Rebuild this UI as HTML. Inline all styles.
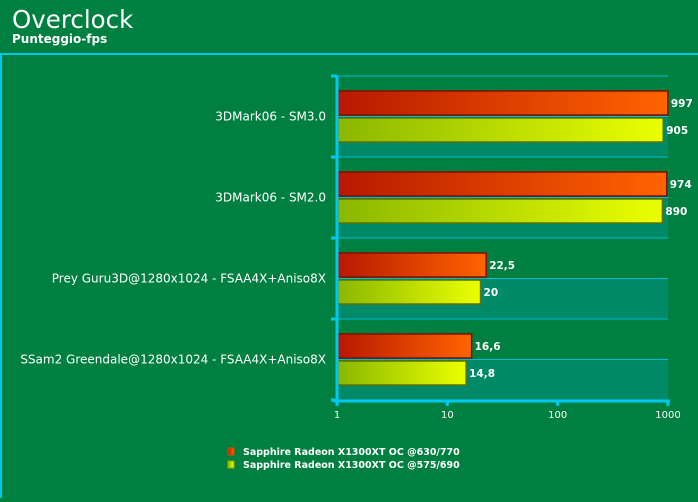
<!DOCTYPE html>
<html><head><meta charset="utf-8"><style>
body{margin:0;background:#008040;width:698px;height:498px;overflow:hidden;font-family:"DejaVu Sans","Liberation Sans",sans-serif}
</style></head><body>
<svg width="698" height="498" xmlns="http://www.w3.org/2000/svg" font-family="DejaVu Sans, Liberation Sans, sans-serif">
<defs>
<linearGradient id="gr" x1="0" x2="1"><stop offset="0" stop-color="#b81800"/><stop offset="1" stop-color="#ff6400"/></linearGradient>
<linearGradient id="gg" x1="0" x2="1"><stop offset="0" stop-color="#8ab800"/><stop offset="1" stop-color="#eaff00"/></linearGradient>
</defs>
<rect x="0" y="0" width="698" height="498" fill="#008040"/>
<text x="12" y="28" font-size="24.5" fill="#fff">Overclock</text>
<text x="12" y="43" font-size="12" font-weight="bold" fill="#fff">Punteggio-fps</text>
<path d="M1 498 V54 H698" stroke="#00c8e8" stroke-width="2" fill="none"/>
<g id="plot"></g>
<g>
<rect x="228" y="448" width="6" height="7" fill="url(#gr)" stroke="#d05000" stroke-width="1"/>
<text x="243" y="455" font-size="9.5" font-weight="bold" fill="#fff">Sapphire Radeon X1300XT OC @630/770</text>
<rect x="228" y="461" width="6" height="7" fill="url(#gg)" stroke="#90b000" stroke-width="1"/>
<text x="243" y="468" font-size="9.5" font-weight="bold" fill="#fff">Sapphire Radeon X1300XT OC @575/690</text>
</g>
</svg>
<script>
const categories=["3DMark06 - SM3.0","3DMark06 - SM2.0","Prey Guru3D@1280x1024 - FSAA4X+Aniso8X","SSam2 Greendale@1280x1024 - FSAA4X+Aniso8X"];
const seriesOC=[997,974,22.5,16.6];
const seriesStock=[905,890,20,14.8];
const labelsOC=["997","974","22,5","16,6"];
const labelsStock=["905","890","20","14,8"];
const ticks=[1,10,100,1000];
const NS="http://www.w3.org/2000/svg";
const g=document.getElementById('plot');
const X0=337,X1=668,Y0=76,Y1=400;
const band=(Y1-Y0)/categories.length;
function xs(v){return X0+Math.log10(v)/3*(X1-X0);}
function mk(t,a){const e=document.createElementNS(NS,t);for(const k in a)e.setAttribute(k,a[k]);g.appendChild(e);return e;}
categories.forEach((c,i)=>{
 const top=Y0+i*band;
 let e=mk('rect',{x:X0,y:top+band/2,width:X1-X0,height:band/2,fill:'#008a68'});
 
 
 mk('line',{x1:X0,x2:X1,y1:top,y2:top,stroke:'#00b8d8','stroke-width':1});
 mk('line',{x1:X0,x2:X1,y1:top+band/2,y2:top+band/2,stroke:'#00b8d8','stroke-width':1});
});
categories.forEach((c,i)=>{
 const top=Y0+i*band;
 let t=mk('text',{x:326,y:top+band/2+4,'font-size':12,fill:'#fff','text-anchor':'end'});
 t.textContent=c;
 
 
 let r=mk('rect',{x:X0+1,y:top+15,width:xs(seriesOC[i])-X0-1,height:24,fill:'url(#gr)',stroke:'#801000','stroke-width':1.5});
 
 
 let r2=mk('rect',{x:X0+1,y:top+42,width:xs(seriesStock[i])-X0-1,height:24,fill:'url(#gg)',stroke:'#607000','stroke-width':1.5});
 
 
 let l1=mk('text',{x:xs(seriesOC[i])+3,y:top+31,'font-size':10.5,'font-weight':'bold',fill:'#fff'});
 l1.textContent=labelsOC[i];
 
 
 let l2=mk('text',{x:xs(seriesStock[i])+3,y:top+58,'font-size':10.5,'font-weight':'bold',fill:'#fff'});
 l2.textContent=labelsStock[i];
 
 
 mk('line',{x1:X0-6,x2:X0,y1:top,y2:top,stroke:'#00c8f0','stroke-width':3});
});
mk('line',{x1:X0-6,x2:X0,y1:Y1,y2:Y1,stroke:'#00c8f0','stroke-width':3});
let ya=mk('line',{x1:X0,x2:X0,y1:Y0,y2:Y1+6,stroke:'#00c8f0','stroke-width':3});


let xa=mk('line',{x1:X0-4,x2:X1+2,y1:Y1+1,y2:Y1+1,stroke:'#00c8f0','stroke-width':3});


ticks.forEach(v=>{
 mk('line',{x1:xs(v),x2:xs(v),y1:Y1,y2:Y1+6,stroke:'#00c8f0','stroke-width':3});
 let t=mk('text',{x:xs(v),y:Y1+18,'font-size':10,fill:'#fff','text-anchor':'middle'});
 t.textContent=v;
 
 
});
</script>
</body></html>
